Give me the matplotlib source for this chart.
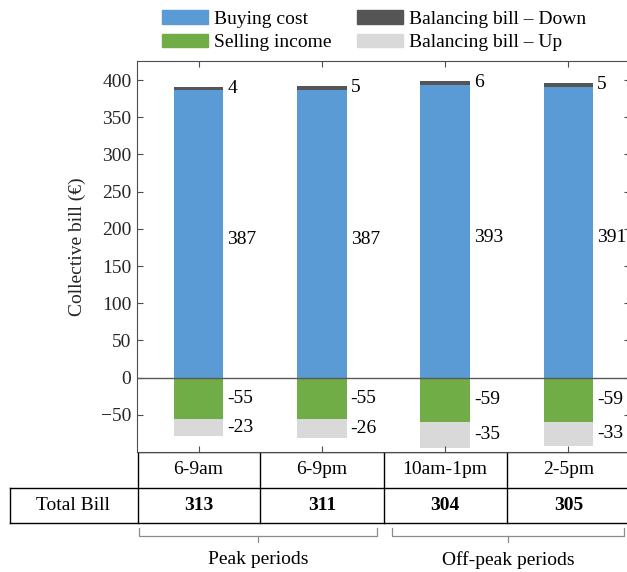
import matplotlib
matplotlib.use('Agg')
import matplotlib.pyplot as plt
from matplotlib.patches import Patch
from matplotlib.transforms import blended_transform_factory
import numpy as np

periods = ['6-9am', '6-9pm', '10am-1pm', '2-5pm']
buying_cost = [387, 387, 393, 391]
balancing_down = [4, 5, 6, 5]
selling_income = [-55, -55, -59, -59]
balancing_up = [-23, -26, -35, -33]
total_bill = [313, 311, 304, 305]
groups = ['Peak periods', 'Off-peak periods']
group_spans = [(0.52, 2.45), (2.57, 4.45)]

C_BUY = '#5b9bd5'
C_SELL = '#70ad47'
C_DOWN = '#555555'
C_UP = '#d9d9d9'

FS = 14
plt.rcParams['font.family'] = ['Liberation Serif', 'DejaVu Serif']
plt.rcParams['font.size'] = FS

W, H = 627, 572
fig = plt.figure(figsize=(W / 100, H / 100), dpi=100)


def box(l, t, r, b):
    return [l / W, 1 - b / H, (r - l) / W, (b - t) / H]


ax = fig.add_axes(box(137, 61.4, 630, 452.1))
x = np.arange(1, len(periods) + 1)
bw = 0.4

ax.bar(x, buying_cost, bw, color=C_BUY, linewidth=0)
ax.bar(x, balancing_down, bw, bottom=buying_cost, color=C_DOWN, linewidth=0)
ax.bar(x, selling_income, bw, color=C_SELL, linewidth=0)
ax.bar(x, balancing_up, bw, bottom=selling_income, color=C_UP, linewidth=0)
ax.axhline(0, color='0.35', lw=1)

for i in range(len(periods)):
    xr = x[i] + bw / 2
    segs = [
        (buying_cost[i] / 2, buying_cost[i], -4),
        (buying_cost[i] + balancing_down[i] / 2, balancing_down[i], 0),
        (selling_income[i] / 2, selling_income[i], 0),
        (selling_income[i] + balancing_up[i] / 2, balancing_up[i], 0),
    ]
    for yc, v, dy in segs:
        ax.annotate(str(v), (xr, yc), xytext=(3, dy), textcoords='offset points',
                    ha='left', va='center', fontsize=FS, color='black',
                    annotation_clip=False)

ax.set_xlim(0.5, 4.5)
ax.set_ylim(-100, 425)
ax.set_yticks(np.arange(-50, 401, 50))
ax.set_xticks(x)
ax.set_xticklabels([])
ax.tick_params(direction='in', length=4, colors='0.3', labelcolor='0.15',
               top=True, right=True, labelsize=FS, pad=4)
for s in ax.spines.values():
    s.set_color('0.3')
    s.set_linewidth(0.8)

fig.text(77 / W, 1 - 247 / H, 'Collective bill (€)', rotation=90,
         ha='center', va='center', fontsize=FS, color='0.15')

# table + brackets on an overlay in pixel coords
ov = fig.add_axes([0, 0, 1, 1], zorder=-1)
ov.set_xlim(0, W)
ov.set_ylim(H, 0)
ov.axis('off')
tr = blended_transform_factory(ax.transData, ov.transData)

r1t, r1b, r2b = 452.1, 487.7, 522.5
lw = 1.0
ov.plot([137.5, W], [r1t, r1t], color='black', lw=lw)
ov.plot([10, W], [r1b, r1b], color='black', lw=lw)
ov.plot([10, W], [r2b, r2b], color='black', lw=lw)
ov.plot([10, 10], [r1b, r2b], color='black', lw=lw)
ov.plot([137.5, 137.5], [r1t, r2b], color='black', lw=lw)
for xb in [1.5, 2.5, 3.5]:
    ov.plot([xb, xb], [r1t, r2b], color='black', lw=lw, transform=tr)

for i, p in enumerate(periods):
    ov.text(x[i], (r1t + r1b) / 2, p, transform=tr, ha='center', va='center',
            fontsize=FS)
    ov.text(x[i], (r1b + r2b) / 2, str(total_bill[i]), transform=tr,
            ha='center', va='center', fontsize=FS, fontweight='bold')
ov.text(73, (r1b + r2b) / 2, 'Total Bill', ha='center', va='center',
        fontsize=FS)

bt, bb, bm = 528, 535.7, 541.5
for (a, b), g in zip(group_spans, groups):
    mid = (a + b) / 2
    ov.plot([a, a, b, b], [bt, bb, bb, bt], color='0.55', lw=0.9, transform=tr)
    ov.plot([mid, mid], [bb, bm], color='0.55', lw=0.9, transform=tr)
    ov.text(mid, 560, g, transform=tr, ha='center', va='center', fontsize=FS)

handles = [Patch(color=C_BUY), Patch(color=C_SELL),
           Patch(color=C_DOWN), Patch(color=C_UP)]
labels = ['Buying cost', 'Selling income',
          'Balancing bill – Down', 'Balancing bill – Up']
fig.legend(handles, labels, ncol=2, loc='upper left',
           bbox_to_anchor=(162 / W, 1 - 10 / H), frameon=False, borderpad=0,
           handlelength=2.37, handleheight=0.72, handletextpad=0.28,
           columnspacing=1.35, labelspacing=0.3, fontsize=FS, borderaxespad=0)

fig.savefig('out.png', dpi=100)
